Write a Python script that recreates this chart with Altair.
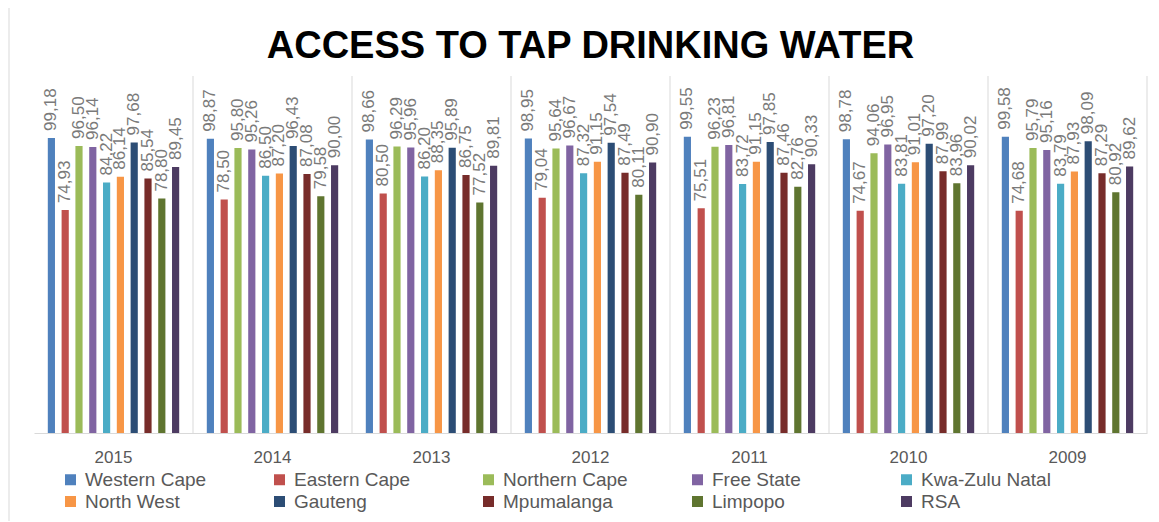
import altair as alt
import pandas as pd

years = ["2015", "2014", "2013", "2012", "2011", "2010", "2009"]
regions = ["Western Cape", "Eastern Cape", "Northern Cape", "Free State", "Kwa-Zulu Natal",
           "North West", "Gauteng", "Mpumalanga", "Limpopo", "RSA"]
colors = ["#4F81BD", "#C0504D", "#9BBB59", "#8064A2", "#4BACC6",
          "#F79646", "#2C4D75", "#772C2A", "#5F7530", "#4D3B62"]

western_cape = [99.18, 98.87, 98.66, 98.95, 99.55, 98.78, 99.58]
eastern_cape = [74.93, 78.50, 80.50, 79.04, 75.51, 74.67, 74.68]
northern_cape = [96.50, 95.80, 96.29, 95.64, 96.23, 94.06, 95.79]
free_state = [96.14, 95.26, 95.96, 96.67, 96.81, 96.95, 95.16]
kwazulu_natal = [84.22, 86.50, 86.20, 87.32, 83.72, 83.81, 83.79]
north_west = [86.14, 87.20, 88.35, 91.15, 91.15, 91.01, 87.93]
gauteng = [97.68, 96.43, 95.89, 97.54, 97.85, 97.20, 98.09]
mpumalanga = [85.54, 87.08, 86.75, 87.49, 87.46, 87.99, 87.29]
limpopo = [78.80, 79.58, 77.52, 80.11, 82.76, 83.96, 80.92]
rsa = [89.45, 90.00, 89.81, 90.90, 90.33, 90.02, 89.62]

series = [western_cape, eastern_cape, northern_cape, free_state, kwazulu_natal,
          north_west, gauteng, mpumalanga, limpopo, rsa]

rows = []
for r, vals in zip(regions, series):
    for y, v in zip(years, vals):
        rows.append({"year": y, "region": r, "value": v,
                     "label": f"{v:.2f}".replace(".", ",")})
df = pd.DataFrame(rows)

W, H = 1113, 357

x_axis = alt.Axis(ticks=False, domainColor="#d9d9d9", labelColor="#595959",
                  labelFontSize=17, labelPadding=16, labelAngle=0,
                  labelFont="Liberation Sans", grid=False, title=None)
x_scale = alt.Scale(paddingInner=0, paddingOuter=0)

xoff = alt.XOffset("region:N", sort=regions,
                   scale=alt.Scale(paddingInner=0.48, paddingOuter=1))
y_enc = alt.Y("value:Q", scale=alt.Scale(domain=[0, 120]), axis=None)

base = alt.Chart(df)

bars = base.mark_bar().encode(
    x=alt.X("year:N", sort=years, scale=x_scale, axis=x_axis),
    xOffset=xoff, y=y_enc,
    color=alt.Color("region:N", sort=regions,
                    scale=alt.Scale(domain=regions, range=colors),
                    legend=alt.Legend(title=None, orient="none", legendX=27, legendY=394,
                                      columns=5, direction="horizontal", gridAlign="all",
                                      symbolType="square", symbolSize=121,
                                      symbolStrokeWidth=0, symbolOpacity=1,
                                      labelFontSize=19, labelColor="#595959",
                                      labelFont="Liberation Sans", labelLimit=300,
                                      columnPadding=55, rowPadding=2, symbolOffset=0,
                                      labelOffset=5))
)

labels = base.mark_text(angle=270, align="left", baseline="middle", dx=7,
                        fontSize=17, color="#7a7a7a", font="Liberation Sans").encode(
    x=alt.X("year:N", sort=years, scale=x_scale, axis=x_axis),
    xOffset=xoff, y=y_enc, text="label:N"
)

sep_df = pd.DataFrame({"year": years[1:]})
seps = alt.Chart(sep_df).mark_rule(color="#d9d9d9", strokeWidth=1).encode(
    x=alt.X("year:N", sort=years, bandPosition=0, scale=x_scale, axis=x_axis),
    y=alt.value(0), y2=alt.value(H)
)
right_df = pd.DataFrame({"year": years[-1:]})
right = alt.Chart(right_df).mark_rule(color="#d9d9d9", strokeWidth=1).encode(
    x=alt.X("year:N", sort=years, bandPosition=1, scale=x_scale, axis=x_axis),
    y=alt.value(0), y2=alt.value(H)
)

frame_df = pd.DataFrame({"k": [0]})
frame_left = alt.Chart(frame_df).mark_rule(color="#d9d9d9", strokeWidth=1).encode(
    x=alt.value(-25), y=alt.value(-70), y2=alt.value(H + 120)
)
frame_top = alt.Chart(frame_df).mark_rule(color="#d9d9d9", strokeWidth=1).encode(
    x=alt.value(-25), x2=alt.value(W + 60), y=alt.value(-70)
)

chart = alt.layer(bars, seps, right, labels, frame_left, frame_top).properties(
    width=W, height=H,
    title=alt.TitleParams("ACCESS TO TAP DRINKING WATER", fontSize=38, fontWeight="bold",
                          font="Liberation Sans", color="#000000", anchor="middle",
                          offset=0, dy=60),
    autosize=alt.AutoSizeParams(type="none"),
    padding={"left": 26, "top": 68, "right": 4, "bottom": 88},
).configure(background="white").configure_view(stroke="transparent", strokeWidth=0)

chart.save("out.html", embed_options={"renderer": "svg", "actions": False})
